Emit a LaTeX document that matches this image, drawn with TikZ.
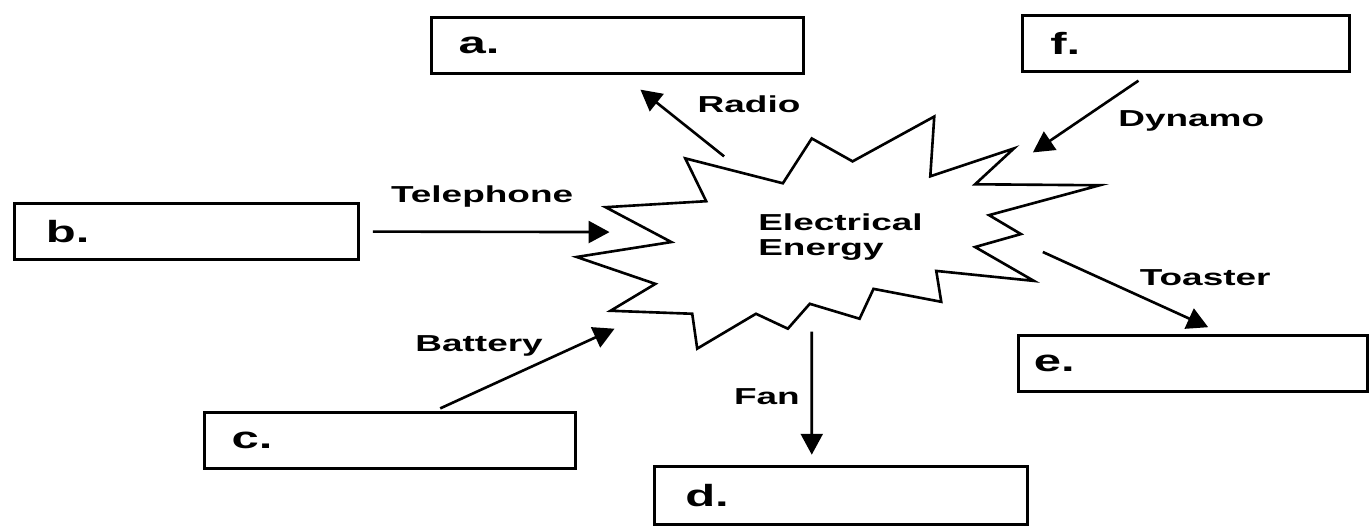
\documentclass[tikz,border=0pt]{standalone}
\usepackage{fontspec}
\setmainfont{Liberation Sans}[FakeStretch=1.6]
\usetikzlibrary{arrows.meta}

\begin{document}
\begin{tikzpicture}[
  x=0.02cm, y=-0.02cm,
  answer/.style={
    rectangle,
    draw,
    line width=1.7pt,
    minimum height=1.12cm,
    inner xsep=0.55cm,
    text width=#1,
    align=left,
    font=\bfseries\fontsize{17.5}{19}\selectfont
  },
  device/.style={
    inner sep=0pt,
    anchor=base,
    font=\bfseries\fontsize{13.2}{14}\selectfont
  },
  burst/.style={line width=1.5pt, line join=miter},
  link/.style={-{Triangle[length=0.42cm,width=0.44cm]}, line width=1.5pt}
]

\fill[white] (0,0) rectangle (1369,529);

\node[answer=6.38cm] (a) at (620,45.5) {a.};
\node[answer=5.46cm] (f) at (1191,43.5) {f.};
\node[answer=5.66cm, inner xsep=0.62cm] (b) at (187.5,232.5) {b.};
\node[answer=6.36cm] (c) at (391.5,442.5) {c.};
\node[answer=6.26cm, inner xsep=0.62cm, minimum height=1.18cm] (d) at (844.5,497.5) {d.};
\node[answer=6.4cm, inner xsep=0.3cm] (e) at (1198,365) {e.};

\draw[burst] (688,159) -- (786,184) -- (815,139) -- (856,162) -- (938,117)
  -- (934,177) -- (1018,149) -- (979,185) -- (1104,186) -- (993,216)
  -- (1025,235) -- (979,248) -- (1038,282) -- (940,272) -- (945,303)
  -- (877,290) -- (863,320) -- (813,305) -- (791,330) -- (759,315)
  -- (700,350) -- (695,315) -- (613,312) -- (658,285) -- (579,258)
  -- (674,243) -- (608,208) -- (709,202) -- cycle;

\node[anchor=west, inner sep=0pt, align=left,
  font=\bfseries\fontsize{13.2}{14.5}\selectfont] (energy) at (761,238) {Electrical\\Energy};

\coordinate (radio-out) at (727,157);
\coordinate (dynamo-in) at (1037,153);
\coordinate (phone-in) at (612,233);
\coordinate (battery-in) at (617,330);
\coordinate (fan-out) at (815,333);
\coordinate (toaster-out) at (1047,253);

\node[device] (radio) at (752,113) {Radio};
\node[device] (dynamo) at (1196,127) {Dynamo};
\node[device] (phone) at (484,203) {Telephone};
\node[device] (battery) at (481,353) {Battery};
\node[device] (fan) at (770,406) {Fan};
\node[device] (toaster) at (1210,287) {Toaster};

\draw[link] (radio-out) -- ([xshift=0.46cm,yshift=-0.3cm]a.south);
\draw[link] ([xshift=-0.96cm,yshift=-0.16cm]f.south) -- (dynamo-in);
\draw[link] ([xshift=0.26cm]b.east) -- (phone-in);
\draw[link] ([xshift=1.01cm,yshift=0.06cm]c.north) -- (battery-in);
\draw[link] (fan-out) -- ([xshift=-0.59cm,yshift=0.2cm]d.north);
\draw[link] (toaster-out) -- ([xshift=0.3cm,yshift=0.14cm]e.north);

\end{tikzpicture}
\end{document}
